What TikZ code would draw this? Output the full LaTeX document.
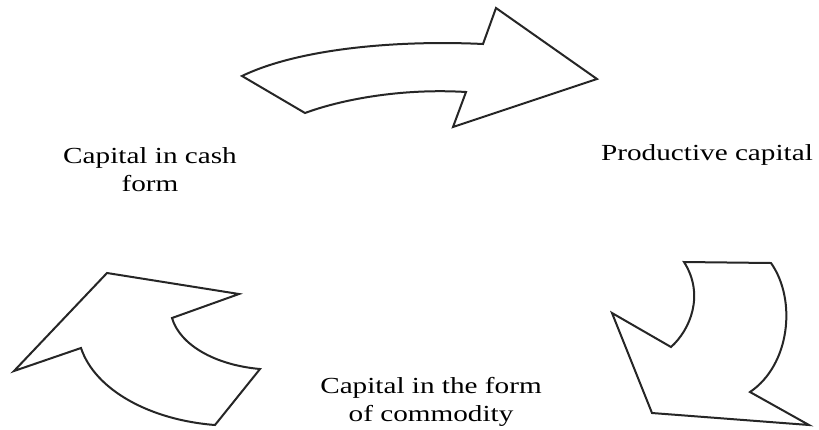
\documentclass[tikz,border=0pt]{standalone}
\usepackage{fontspec}
\setmainfont{Liberation Serif}
\usepackage{tikz}

\begin{document}
\begin{tikzpicture}[x=1pt,y=-1pt,
    shape outline/.style={draw=black!85,line width=2pt,line join=miter,fill=white},
    stage/.style={align=center,xscale=1.27,font=\fontsize{23}{28}\selectfont}]
        \useasboundingbox (0,0) rectangle (819,429);
        % text of the three stages
        \node[stage] (cash) at (150,170) {Capital in cash\\form};
        \node[stage] (prod) at (707,155) {Productive capital};
        \node[stage] (comm) at (431,402) {Capital in the form\\of commodity};

        % top arrow: cash -> productive
        \draw[shape outline] (242,76) -- (305,113)
            .. controls (340,100) and (400,88) .. (466,92)
            -- (453,127) -- (597,79) -- (496,8) -- (483,44)
            .. controls (400,40) and (300,48) .. cycle;

        % right arrow: productive -> commodity
        \draw[shape outline] (684,262) -- (771,263)
            .. controls (797,300) and (790,365) .. (750,392)
            -- (809,425) -- (652,413) -- (612,313) -- (671,347)
            .. controls (690,330) and (705,295) .. cycle;

        % left arrow: commodity -> cash
        \draw[shape outline] (14,371) -- (107,273) -- (239,294) -- (172,318)
            .. controls (180,345) and (215,365) .. (260,369)
            -- (215,425)
            .. controls (150,420) and (95,390) .. (81,348) -- cycle;
    \end{tikzpicture}
\end{document}
